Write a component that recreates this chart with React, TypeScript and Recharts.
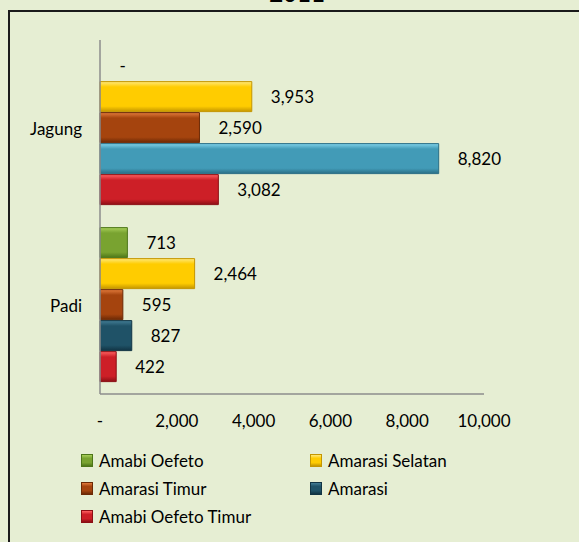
import React from "react";
import { Bar, BarChart, Cell, LabelList, XAxis, YAxis } from "recharts";

const categories = ["Jagung", "Padi"];
const seriesNames = ["Amabi Oefeto", "Amarasi Selatan", "Amarasi Timur", "Amarasi", "Amabi Oefeto Timur"];
const amabiOefeto = [0, 713];
const amarasiSelatan = [3953, 2464];
const amarasiTimur = [2590, 595];
const amarasi = [8820, 827];
const amabiOefetoTimur = [3082, 422];
const xTicks = [0, 2000, 4000, 6000, 8000, 10000];

const seriesValues = [amabiOefeto, amarasiSelatan, amarasiTimur, amarasi, amabiOefetoTimur];

// light / base / dark for the bevelled look
const palette: Record<string, [string, string, string]> = {
  green: ["#a8cf5a", "#79a330", "#4d7618"],
  yellow: ["#ffe97a", "#ffcc00", "#c49600"],
  orange: ["#e27b3c", "#a5440e", "#6c2905"],
  teal: ["#437d95", "#1f5267", "#113444"],
  sky: ["#80d2ea", "#429bb7", "#2a6e85"],
  red: ["#ff6262", "#cd1f27", "#8c0f15"],
};
const seriesColor = ["green", "yellow", "orange", "teal", "red"];
// the Jagung bar of Amarasi is drawn in a lighter blue in the source
const pointColor = (s: number, i: number) => (s === 3 && i === 0 ? "sky" : seriesColor[s]);

const data = categories.map((name, i) => {
  const row: Record<string, string | number> = { name };
  seriesNames.forEach((s, k) => (row[s] = seriesValues[k][i]));
  return row;
});

const fmt = (v: number) => (v === 0 ? "-" : v.toLocaleString("en-US"));
const font = "Lato, 'Open Sans', sans-serif";

export default function App() {
  return (
    <div style={{ position: "absolute", left: 0, top: 0, width: 579, height: 542, overflow: "hidden", background: "#e6eed3", fontFamily: font }}>
      <div style={{ position: "absolute", left: 8, top: 10, width: 640, height: 620, border: "2px solid #1a1a1a" }} />
      <div style={{ position: "absolute", left: 0, top: -19, width: 594, textAlign: "center", fontSize: 24, fontWeight: 700, lineHeight: "24px" }}>2011</div>
      <div style={{ position: "absolute", left: 0, top: 0 }}>
        <BarChart
          width={579}
          height={542}
          data={data}
          layout="vertical"
          margin={{ top: 40, right: 95, bottom: 108, left: 0 }}
          barGap={1}
          barCategoryGap="6%"
        >
          <defs>
            {Object.entries(palette).map(([k, [l, b, d]]) => (
              <linearGradient key={k} id={`g-${k}`} x1="0" y1="0" x2="0" y2="1">
                <stop offset="0%" stopColor={l} />
                <stop offset="18%" stopColor={b} />
                <stop offset="82%" stopColor={b} />
                <stop offset="100%" stopColor={d} />
              </linearGradient>
            ))}
          </defs>
          <XAxis
            type="number"
            domain={[0, 10000]}
            ticks={xTicks}
            tickFormatter={fmt}
            axisLine={{ stroke: "#8c8c8c", strokeWidth: 1.5 }}
            tickLine={false}
            tickSize={0}
            tickMargin={21}
            height={40}
            tick={{ fill: "#000", fontSize: 17, fontFamily: font }}
          />
          <YAxis
            type="category"
            dataKey="name"
            width={100}
            axisLine={{ stroke: "#8c8c8c", strokeWidth: 1.5 }}
            tickLine={false}
            tickSize={0}
            tickMargin={18}
            tick={{ fill: "#000", fontSize: 17, fontFamily: font }}
          />
          {seriesNames.map((s, k) => (
            <Bar key={s} dataKey={s} isAnimationActive={false} minPointSize={0.5}>
              {data.map((d, i) => {
                const c = palette[pointColor(k, i)];
                const empty = d[s] === 0;
                return (
                  <Cell
                    key={i}
                    fill={empty ? "transparent" : `url(#g-${pointColor(k, i)})`}
                    stroke={empty ? "none" : c[2]}
                    strokeWidth={1}
                  />
                );
              })}
              <LabelList
                dataKey={s}
                position="right"
                offset={19}
                formatter={(v: number) => fmt(v)}
                style={{ fill: "#000", fontSize: 17, fontFamily: font }}
              />
            </Bar>
          ))}
        </BarChart>
      </div>
      {seriesNames.map((s, k) => {
        const col = k % 2;
        const row = Math.floor(k / 2);
        const [l, b, d] = palette[seriesColor[k]];
        return (
          <div
            key={s}
            style={{ position: "absolute", left: col === 0 ? 81 : 310, top: 449 + row * 28, height: 22, display: "flex", alignItems: "center", fontSize: 17, color: "#000" }}
          >
            <span style={{ display: "inline-block", width: 10, height: 11, marginRight: 6, background: `linear-gradient(${l}, ${b} 30%, ${b} 70%, ${d})`, border: `1px solid ${d}` }} />
            {s}
          </div>
        );
      })}
    </div>
  );
}
